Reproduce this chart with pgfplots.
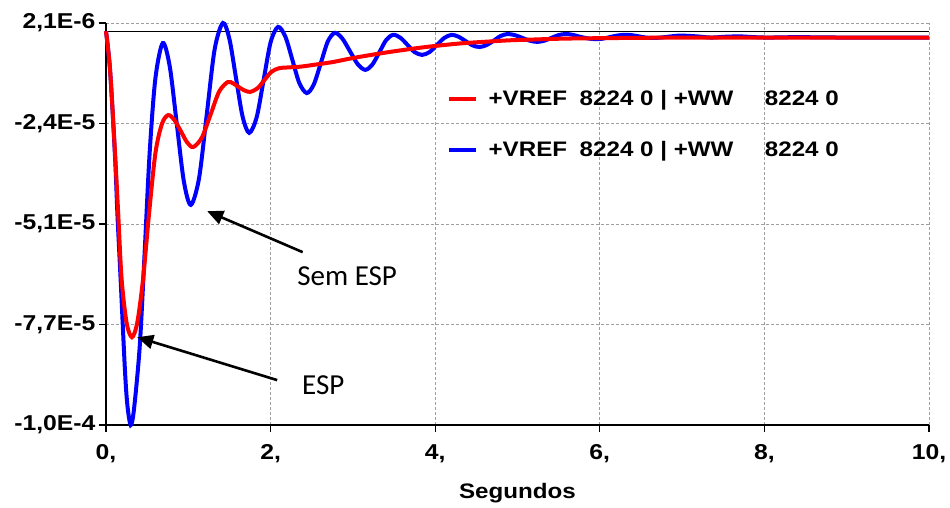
\documentclass[border=0pt]{standalone}
\usepackage{fontspec}
\setmainfont{Liberation Sans}
\newfontfamily\lbl[FakeStretch=1.15]{Liberation Sans}
\newfontfamily\note{Carlito}
\usepackage{pgfplots}
\usepackage{pgfplotstable}
\pgfplotsset{compat=1.18}
\usetikzlibrary{arrows.meta}

% values in 1e-6
\pgfplotstableread{
t y
0 0
0.05 -10
0.11 -32
0.14 -47
0.18 -64
0.23 -86
0.26 -95
0.3 -100
0.34 -96
0.41 -80
0.47 -56
0.53 -31
0.6 -12
0.69 -3.0
0.775 -9
0.86 -23.5
0.945 -38
1.03 -44.1
1.13 -37.4
1.225 -21
1.32 -4.6
1.42 2.1
1.5 -2.0
1.58 -11.9
1.66 -21.7
1.74 -25.8
1.83 -21.9
1.915 -12.4
2.0 -2.8
2.09 1.1
2.18 -1.4
2.265 -7.3
2.35 -13.2
2.44 -15.7
2.525 -13.5
2.61 -8.1
2.695 -2.6
2.78 -0.4
2.87 -1.8
2.965 -5.1
3.06 -8.4
3.15 -9.8
3.235 -8.5
3.32 -5.4
3.405 -2.2
3.49 -0.9
3.58 -1.7
3.665 -3.5
3.75 -5.3
3.84 -6.0
3.93 -5.3
4.02 -3.5
4.11 -1.7
4.2 -0.9
4.285 -1.4
4.37 -2.5
4.455 -3.6
4.54 -4.0
4.625 -3.5
4.71 -2.4
4.795 -1.2
4.88 -0.7
4.97 -1.0
5.06 -1.7
5.15 -2.4
5.24 -2.7
5.325 -2.4
5.41 -1.7
5.495 -1.0
5.58 -0.7
5.67 -0.9
5.76 -1.4
5.85 -1.8
5.94 -2.0
6.03 -1.9
6.12 -1.5
6.21 -1.1
6.3 -0.9
6.39 -1.0
6.475 -1.3
6.56 -1.6
6.65 -1.7
6.74 -1.6
6.825 -1.4
6.91 -1.2
7.0 -1.1
7.18 -1.3
7.35 -1.6
7.52 -1.4
7.7 -1.3
7.88 -1.5
8.05 -1.6
8.4 -1.5
9.0 -1.6
10 -1.6
}\semesp

\pgfplotstableread{
t y
0 0
0.05 -10
0.11 -31
0.15 -47
0.19 -63
0.25 -74
0.315 -77.7
0.38 -74
0.45 -63
0.52 -47
0.6 -31
0.68 -23.5
0.755 -21.3
0.83 -22.5
0.91 -25.4
0.985 -28.2
1.06 -29.4
1.165 -27.0
1.27 -21.2
1.375 -15.3
1.48 -12.9
1.55 -13.3
1.615 -14.2
1.68 -15.0
1.75 -15.4
1.84 -14.5
1.925 -12.4
2.01 -10.3
2.1 -9.4
2.2 -9.2
2.36 -9.0
2.5 -8.6
2.76 -7.8
3.0 -6.8
3.37 -5.5
3.7 -4.5
3.97 -3.8
4.3 -3.1
4.58 -2.7
4.9 -2.3
5.19 -2.1
5.5 -1.9
5.8 -1.8
6.3 -1.7
7.0 -1.6
8.0 -1.6
10 -1.6
}\esp

\begin{document}
\begin{tikzpicture}
\path[use as bounding box] (0pt,0pt) rectangle (950pt,508pt);
\begin{axis}[
    at={(106pt,83pt)}, anchor=south west,
    scale only axis, width=823pt, height=402pt,
    xmin=0, xmax=10, ymin=-100, ymax=2.1,
    clip=false,
    axis x line*=bottom, axis y line*=left,
    axis line style={black, line width=1.3pt},
    xtick={0,2,4,6,8,10},
    xticklabels={{0,},{2,},{4,},{6,},{8,},{10,}},
    ytick={-100,-74.475,-48.95,-23.425,2.1},
    yticklabels={{-1,0E-4},{-7,7E-5},{-5,1E-5},{-2,4E-5},{2,1E-6}},
    tick align=outside, major tick length=7pt,
    tick style={black, line width=1.2pt},
    grid=major,
    major grid style={gray!75, densely dashed, line width=0.9pt},
    ticklabel style={font=\lbl\bfseries\fontsize{21.5}{25}\selectfont},
    xticklabel style={yshift=-9pt},
    xlabel={Segundos},
    xlabel style={font=\lbl\bfseries\fontsize{21}{25}\selectfont, yshift=-14pt},
    legend style={at={(0.41,0.842)}, anchor=north west, draw=none, fill=none,
        font=\lbl\bfseries\fontsize{21}{25}\selectfont, row sep=30pt,
        column sep=9pt},
    legend cell align=left,
    reverse legend,
    legend image code/.code={\draw[#1] (0pt,0pt) -- (27pt,0pt);},
]
\draw[black, line width=1.3pt] (axis cs:0,0) -- (axis cs:10,0);
\addplot[blue, line width=4pt, smooth] table[x=t, y=y] {\semesp};
\addlegendentry{+VREF\hspace{0.6em}8224 0 | +WW\hspace{1.5em}8224 0}
\addplot[red, line width=4pt, smooth] table[x=t, y=y] {\esp};
\addlegendentry{+VREF\hspace{0.6em}8224 0 | +WW\hspace{1.5em}8224 0}

\draw[-{Triangle[length=16pt,width=14pt]}, line width=2.6pt]
    (axis cs:2.39,-56.1) -- (axis cs:1.23,-45.7);
\node[font=\note\fontsize{29}{34}\selectfont] at (axis cs:2.93,-62.2) {Sem ESP};
\draw[-{Triangle[length=16pt,width=14pt]}, line width=2.6pt]
    (axis cs:2.08,-88.6) -- (axis cs:0.38,-77.7);
\node[font=\note\fontsize{29}{34}\selectfont] at (axis cs:2.64,-89.8) {ESP};
\end{axis}
\end{tikzpicture}
\end{document}
